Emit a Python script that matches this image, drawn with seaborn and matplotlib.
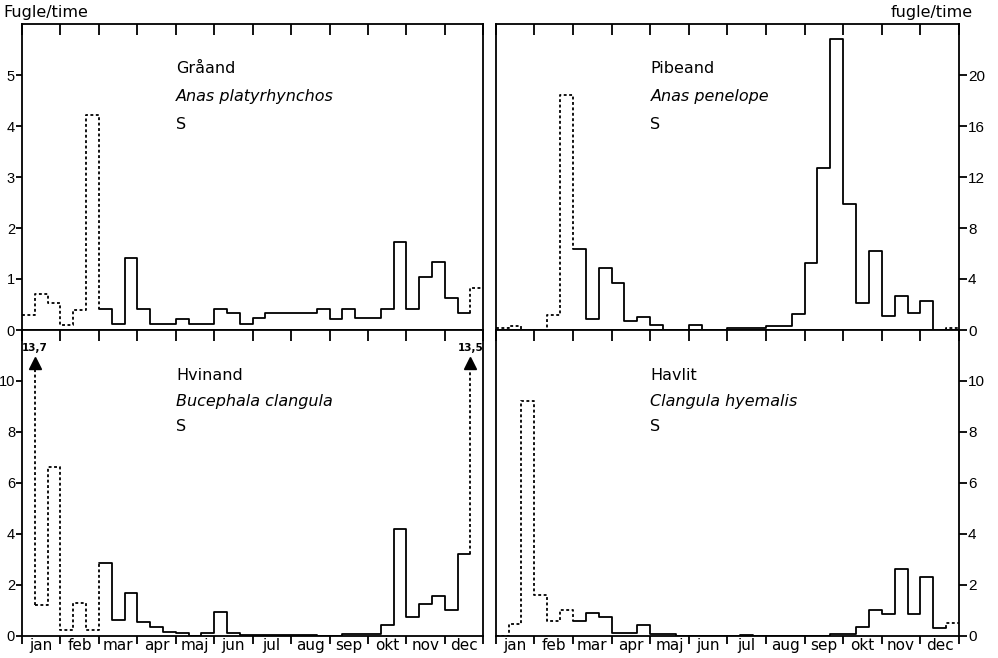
import numpy as np
import pandas as pd
import matplotlib
matplotlib.use("Agg")
import matplotlib.pyplot as plt
import seaborn as sns

# ---- data: 36 ten-day periods (3 per month) ----
months = ["jan", "feb", "mar", "apr", "maj", "jun",
          "jul", "aug", "sep", "okt", "nov", "dec"]

graaand = [0.30, 0.71, 0.52, 0.10, 0.40, 4.22,
           0.42, 0.12, 1.42, 0.42, 0.12, 0.12,
           0.22, 0.12, 0.12, 0.42, 0.33, 0.12,
           0.23, 0.33, 0.33, 0.33, 0.33, 0.41,
           0.22, 0.41, 0.23, 0.23, 0.41, 1.72,
           0.41, 1.03, 1.33, 0.63, 0.33, 0.82]

pibeand = [0.15, 0.35, 0.0, 0.0, 1.18, 18.4,
           6.35, 0.84, 4.84, 3.66, 0.70, 1.05,
           0.39, 0.0, 0.0, 0.39, 0.0, 0.0,
           0.12, 0.12, 0.12, 0.31, 0.31, 1.23,
           5.28, 12.73, 22.8, 9.88, 2.14, 6.20,
           1.12, 2.67, 1.31, 2.30, 0.0, 0.13]

hvinand = [13.7, 1.18, 6.60, 0.20, 1.28, 0.20,
           2.84, 0.61, 1.66, 0.52, 0.33, 0.13,
           0.09, 0.0, 0.10, 0.94, 0.09, 0.03,
           0.03, 0.03, 0.03, 0.03, 0.03, 0.0,
           0.0, 0.05, 0.05, 0.05, 0.40, 4.20,
           0.73, 1.22, 1.54, 1.02, 3.20, 13.5]

havlit = [0.0, 0.47, 9.23, 1.61, 0.58, 1.00,
          0.58, 0.89, 0.71, 0.10, 0.10, 0.41,
          0.05, 0.05, 0.0, 0.0, 0.0, 0.0,
          0.0, 0.03, 0.0, 0.0, 0.0, 0.0,
          0.0, 0.0, 0.06, 0.06, 0.33, 1.02,
          0.83, 2.62, 0.83, 2.29, 0.28, 0.50]

dotted_bins = [0, 1, 2, 3, 4, 5, 35]

sns.set_theme(style="white")
plt.rcParams['font.family'] = ['DejaVu Sans']
plt.rcParams['text.color'] = 'black'
NARROW = ['Liberation Sans Narrow', 'Liberation Sans', 'DejaVu Sans']

W, H = 998, 658
fig = plt.figure(figsize=(W / 100, H / 100), dpi=100)

LW = 1.3
DOT = (0, (1.6, 1.4))


def build_paths(vals, dotted, ymax):
    n = len(vals)
    pieces, arrows = [], []
    for i in range(n):
        if i > 0:
            a, b = vals[i - 1], vals[i]
            st = 'dot' if (i - 1 in dotted or i in dotted) else 'solid'
            if a <= ymax and b <= ymax:
                pieces.append((st, [(i, a), (i, b)]))
            elif a <= ymax:
                arrows.append((i, a, b))
            elif b <= ymax:
                arrows.append((i, b, a))
        if vals[i] <= ymax:
            st = 'dot' if i in dotted else 'solid'
            pieces.append((st, [(i, vals[i]), (i + 1, vals[i])]))
    paths = []
    for st, pts in pieces:
        if paths and paths[-1][0] == st and paths[-1][1][-1] == pts[0]:
            paths[-1][1].extend(pts[1:])
        else:
            paths.append((st, list(pts)))
    return paths, arrows


L = (22, 483.3)
R = (495.7, 959)
T = (24, 330)
B = (330, 635.5)

panels = [
    dict(vals=graaand, xb=L, yb=T, ymax=6, yticks=list(range(0, 6)), side='left',
         row='top', name='Gråand', latin='Anas platyrhynchos', ty=(0.853, 0.762, 0.672)),
    dict(vals=pibeand, xb=R, yb=T, ymax=24, yticks=list(range(0, 21, 4)), side='right',
         row='top', name='Pibeand', latin='Anas penelope', ty=(0.853, 0.762, 0.672)),
    dict(vals=hvinand, xb=L, yb=B, ymax=12, yticks=list(range(0, 11, 2)), side='left',
         row='bottom', name='Hvinand', latin='Bucephala clangula', ty=(0.850, 0.765, 0.683)),
    dict(vals=havlit, xb=R, yb=B, ymax=12, yticks=list(range(0, 11, 2)), side='right',
         row='bottom', name='Havlit', latin='Clangula hyemalis', ty=(0.850, 0.765, 0.683)),
]

for p in panels:
    x0, x1 = p['xb']
    y0, y1 = p['yb']
    ax = fig.add_axes([x0 / W, 1 - y1 / H, (x1 - x0) / W, (y1 - y0) / H])
    vals = p['vals']
    ymax = p['ymax']
    paths, arrows = build_paths(vals, dotted_bins, ymax)
    for st, pts in paths:
        xs = [q[0] for q in pts]
        ys = [q[1] for q in pts]
        sns.lineplot(x=xs, y=ys, ax=ax, color='black', lw=LW,
                     linestyle=DOT if st == 'dot' else '-',
                     estimator=None, sort=False, legend=False)
    for k, ystart, v in arrows:
        sns.lineplot(x=[k, k], y=[ystart, 0.875 * ymax], ax=ax, color='black', lw=LW,
                     linestyle=DOT, estimator=None, sort=False, legend=False)
        ax.plot([k], [0.893 * ymax], marker='^', ms=8, color='black', mec='black')
        ax.text(k, 0.94 * ymax, f"{v:.1f}".replace('.', ','), fontsize=7.5,
                fontweight='bold', ha='center', va='center', color='black')

    ax.set_xlim(0, len(vals))
    ax.set_ylim(0, ymax)
    ax.set_xlabel('')
    ax.set_ylabel('')
    ax.set_xticks(np.arange(0, len(vals) + 1, 3))
    ax.set_xticks(np.arange(1.5, len(vals), 3), minor=True)
    if p['row'] == 'bottom':
        ax.set_xticklabels([])
        ax.set_xticklabels(months, minor=True)
        ax.tick_params(axis='x', which='major', bottom=True, top=False, direction='out',
                       length=6, width=LW, color='black', labelbottom=False)
        ax.tick_params(axis='x', which='minor', bottom=True, top=False, length=0,
                       labelsize=11, pad=2, labelcolor='black')
    else:
        ax.tick_params(axis='x', which='both', bottom=False, top=False, labelbottom=False)
    sec = ax.secondary_xaxis('top')
    sec.set_xticks(np.arange(0, len(vals) + 1, 3))
    sec.tick_params(axis='x', direction='in', length=8, width=LW, color='black',
                    labeltop=False)
    sec.spines['top'].set_visible(False)

    ax.set_yticks(p['yticks'])
    if p['side'] == 'left':
        ax.tick_params(axis='y', left=True, right=False, labelleft=True, labelright=False,
                       direction='out', length=4.5, width=LW, pad=0.5, labelsize=10.5,
                       color='black', labelcolor='black')
    else:
        ax.yaxis.tick_right()
        ax.tick_params(axis='y', left=False, right=True, labelleft=False, labelright=True,
                       direction='out', length=5.5, width=LW, pad=1, labelsize=11,
                       color='black', labelcolor='black')
    for lab in ax.get_yticklabels():
        lab.set_family(NARROW)
    for sp in ax.spines.values():
        sp.set_visible(True)
        sp.set_color('black')
        sp.set_linewidth(LW)

    ty = p['ty']
    ax.text(0.334, ty[0], p['name'], transform=ax.transAxes, fontsize=11.5, va='center')
    ax.text(0.334, ty[1], p['latin'], transform=ax.transAxes, fontsize=11.5, va='center',
            style='italic')
    ax.text(0.334, ty[2], 'S', transform=ax.transAxes, fontsize=11.5, va='center')

fig.text(3 / W, 1 - 13 / H, 'Fugle/time', fontsize=11.5, ha='left', va='center')
fig.text(973 / W, 1 - 13 / H, 'fugle/time', fontsize=11.5, ha='right', va='center')

fig.savefig('out.png', dpi=100)
